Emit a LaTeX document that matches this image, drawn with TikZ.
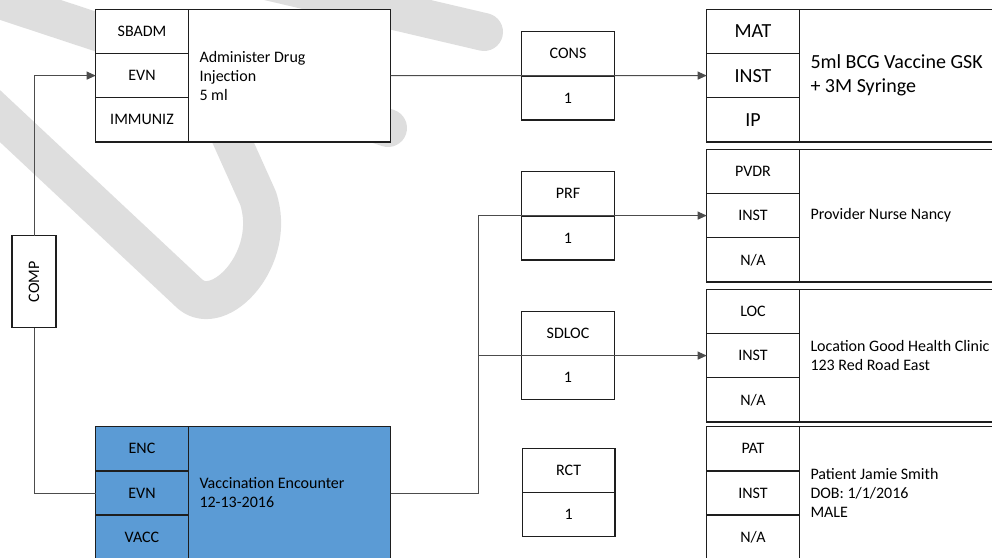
\documentclass[tikz,border=0pt]{standalone}
\usepackage{fontspec}
\usepackage{graphicx}
\setmainfont{Carlito}
\usetikzlibrary{positioning,arrows.meta}

\definecolor{encblue}{HTML}{5B9BD5}
\definecolor{boxline}{HTML}{1E1E1E}
\definecolor{wmark}{HTML}{DEDEDE}

\newcommand{\lbl}{\fontsize{16}{19}\selectfont}
\newcommand{\biglbl}{\fontsize{20}{24}\selectfont}

\tikzset{
  cell/.style={draw=boxline, line width=1.4pt, fill=white, minimum width=92.6pt,
    minimum height=44.2pt, inner sep=0pt, outer sep=0pt, font=\lbl},
  body/.style={cell, minimum width=202.4pt, minimum height=132.6pt},
  bodytext/.style={align=left, inner sep=0pt, font=\lbl},
  link/.style={draw=black!70, line width=1pt},
  arrowed/.style={-{Triangle[length=9pt,width=8pt]}},
}

% act/role box: three code cells on the left, free text on the right
\newcommand{\recbox}[8][]{%
  \node[cell, #1, anchor=north west] (#2a) at (#3,#4) {#5};
  \node[cell, #1, below=0pt of #2a] (#2b) {#6};
  \node[cell, #1, below=0pt of #2b] (#2c) {#7};
  \node[body, #1, anchor=north west] (#2t) at (#2a.north east) {};
  \node[bodytext, #1, anchor=west] (#2x) at ([xshift=11pt]#2t.west) {#8};
}

% participation box: type code over cardinality
\newcommand{\countbox}[4]{%
  \node[cell, anchor=north west] (#1) at (#2,#3) {#4};
  \node[cell, below=0pt of #1] (#1n) {1};
}

\begin{document}
\begin{tikzpicture}[x=1pt, y=-1pt]
\useasboundingbox (0,0) rectangle (992,557);
\clip (0,0) rectangle (992,557);

% watermark strokes behind everything
\begin{scope}[draw=wmark, line width=38pt, line cap=round, line join=round]
  \draw (-30,88) -- (190,294) .. controls (220,320) and (278,258) .. (258,198) -- (205,80);
  \draw (-30,-10) -- (388,128);
  \draw (262,-20) -- (484,32);
\end{scope}

% acts
\recbox{adm}{95.7}{9.3}{SBADM}{EVN}{IMMUNIZ}{Administer Drug\\Injection\\5 ml}
\recbox[fill=encblue]{enc}{95.7}{426.7}{ENC}{EVN}{VACC}{Vaccination Encounter\\12-13-2016}

% roles
\recbox[font=\biglbl]{mat}{706.7}{9.3}{MAT}{INST}{IP}{5ml BCG Vaccine GSK\\+ 3M Syringe}
\recbox{pvdr}{706.7}{149.3}{PVDR}{INST}{N/A}{Provider Nurse Nancy}
\recbox{loc}{706.7}{289.3}{LOC}{INST}{N/A}{Location Good Health Clinic\\123 Red Road East}
\recbox{pat}{706.7}{426.7}{PAT}{INST}{N/A}{Patient Jamie Smith\\DOB: 1/1/2016\\MALE}

% participations
\countbox{cons}{521.7}{31.7}{CONS}
\countbox{prf}{521.7}{171.7}{PRF}
\countbox{sdloc}{521.7}{311.3}{SDLOC}
\countbox{rct}{522.3}{448.3}{RCT}

% act relationship
\node[cell, minimum width=44.3pt, minimum height=92pt] (comp) at (34,281.7) {\rotatebox{90}{COMP}};

% connectors
\coordinate (bus) at (478,0);
\draw[link, arrowed] (comp.north) |- (admb.west);
\draw[link] (comp.south) |- (encb.west);
\draw[link, arrowed] (admt.east) -- (matb.west);
\draw[link, arrowed] (enct.east) -- (bus |- enct.east) |- (pvdrb.west);
\draw[link, arrowed] (enct.east) -- (bus |- enct.east) |- (locb.west);
\end{tikzpicture}
\end{document}
